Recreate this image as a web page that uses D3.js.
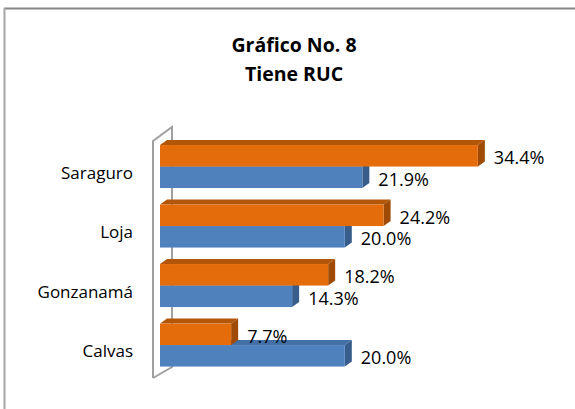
<!DOCTYPE html>
<html lang="es">

<head>
    <meta charset="UTF-8">
    <title>Gráfico No. 8</title>
    <script src="https://d3js.org/d3.v7.min.js"></script>
    <style>
        body,
        html {
            margin: 0;
            background-color: white;
        }

        svg {
            display: block;
            font-family: "Open Sans", sans-serif;
        }
    </style>
</head>

<body>
    <svg id="chart"></svg>

    <script>
        // data
        const categories = ["Saraguro", "Loja", "Gonzanamá", "Calvas"];
        const serieAzul = [21.9, 20.0, 14.3, 20.0];
        const serieNaranja = [34.4, 24.2, 18.2, 7.7];
        const titleLines = ["Gráfico No. 8", "Tiene RUC"];

        const svgWidth = 575;
        const svgHeight = 409;

        const svg = d3.select("#chart")
            .attr("width", svgWidth)
            .attr("height", svgHeight);

        // outer frame (only top and left edge show)
        svg.append("line")
            .attr("x1", 4).attr("y1", 8.5).attr("x2", svgWidth).attr("y2", 8.5)
            .attr("stroke", "#868686").attr("stroke-width", 2);
        svg.append("line")
            .attr("x1", 4.5).attr("y1", 8).attr("x2", 4.5).attr("y2", svgHeight)
            .attr("stroke", "#a6a6a6").attr("stroke-width", 2);

        // title
        svg.append("text")
            .attr("x", 294)
            .attr("text-anchor", "middle")
            .style("font-weight", "bold")
            .style("font-size", "19.5px")
            .selectAll("tspan")
            .data(titleLines)
            .enter().append("tspan")
            .attr("x", 294)
            .attr("y", (d, i) => 52 + i * 29)
            .text(d => d);

        const xScale = d3.scaleLinear()
            .domain([0, 40])
            .range([160, 529.6]);

        const yScale = d3.scaleBand()
            .domain(categories)
            .range([136.7, 374.9])
            .paddingInner(0.277)
            .paddingOuter(0.14);

        // orange sits above blue inside each group
        const series = [
            { name: "naranja", values: serieNaranja, front: "#e46c0a", top: "#b45608", side: "#9f4b06" },
            { name: "azul", values: serieAzul, front: "#4f81bd", top: "#4270a6", side: "#385d8a" }
        ];

        const ySub = d3.scaleBand()
            .domain(series.map(s => s.name))
            .range([0, yScale.bandwidth()]);

        const dx = 7, dy = 5;

        // side wall outline
        const wall = svg.append("g")
            .attr("stroke", "#a0a0a0")
            .attr("stroke-width", 2)
            .attr("fill", "none");
        wall.append("polyline")
            .attr("points", "153,378 153,141 172,127 172,367 153,378");

        const fmt = d3.format(".1f");

        function bar3d(g, x0, x1, y0, h, s) {
            g.append("polygon")
                .attr("points", [[x0, y0], [x0 + dx, y0 - dy], [x1 + dx, y0 - dy], [x1, y0]].join(" "))
                .attr("fill", s.top);
            g.append("polygon")
                .attr("points", [[x1, y0], [x1 + dx, y0 - dy], [x1 + dx, y0 + h - dy], [x1, y0 + h]].join(" "))
                .attr("fill", s.side);
            g.append("rect")
                .attr("x", x0)
                .attr("y", y0)
                .attr("width", x1 - x0)
                .attr("height", h)
                .attr("fill", s.front);
        }

        const bars = svg.append("g");
        categories.forEach((c, i) => {
            // draw blue first so orange covers its top face
            [series[1], series[0]].forEach(s => {
                const y0 = yScale(c) + ySub(s.name);
                bar3d(bars, xScale(0), xScale(s.values[i]), y0, ySub.bandwidth(), s);
            });
        });

        // value labels
        series.forEach(s => {
            svg.append("g")
                .selectAll("text")
                .data(s.values)
                .enter().append("text")
                .attr("x", d => xScale(d) + 16)
                .attr("y", (d, i) => yScale(categories[i]) + ySub(s.name) + ySub.bandwidth() / 2 + 8.5)
                .style("font-size", "18px")
                .attr("fill", "#000")
                .text(d => fmt(d) + "%");
        });

        // category labels
        svg.append("g")
            .selectAll("text")
            .data(categories)
            .enter().append("text")
            .attr("x", 133)
            .attr("y", d => yScale(d) + yScale.bandwidth() / 2 + 12)
            .attr("text-anchor", "end")
            .style("font-size", "17px")
            .attr("fill", "#000")
            .text(d => d);
    </script>
</body>

</html>
